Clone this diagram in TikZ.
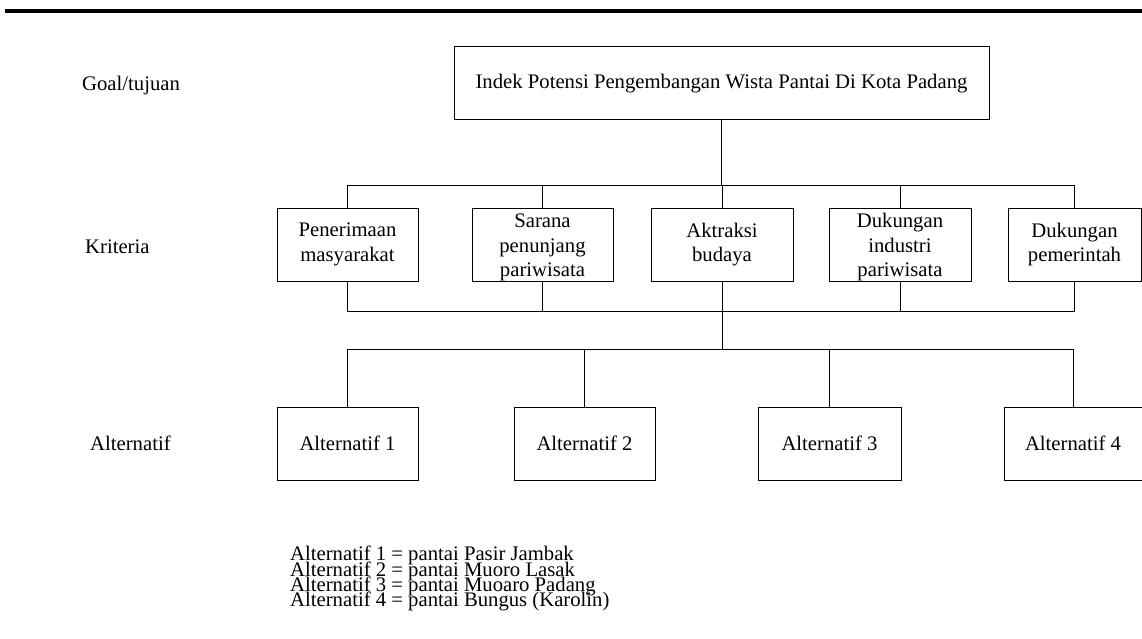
\documentclass[tikz,border=0pt]{standalone}
\usepackage{fontspec}
\setmainfont{Liberation Serif}

\begin{document}
\begin{tikzpicture}[x = 1pt, y = -1pt,
    every node/.style = {font = \fontsize{20.7}{24.5}\selectfont, inner sep = 0pt},
    box/.style = {draw, line width = 0.9pt, minimum height = 73pt, align = center},
    level/.style = {anchor = base west},
    link/.style = {line width = 0.9pt}]
            \useasboundingbox (0, 0) rectangle (1142, 639);
            \draw[line width = 4pt] (5, 11) -- (1142, 11);

            \node[level] (lgoal) at (82, 90.7) {Goal/tujuan};
            \node[level] (lkrit) at (85, 253) {Kriteria};
            \node[level] (lalt) at (90, 450.5) {Alternatif};

            \node[box, minimum width = 535pt, minimum height = 73.3pt] (goal) at (721.5, 83.3)
              {Indek Potensi Pengembangan Wista Pantai Di Kota Padang};

            \node[box, minimum width = 141pt] (pen) at (347.5, 244.5) {Penerimaan\\masyarakat};
            \node[box, minimum width = 141pt] (sar) at (542.5, 244.5) {\rule{0pt}{19.5pt}Sarana\\penunjang\\pariwisata};
            \node[box, minimum width = 142pt] (akt) at (722, 244.5) {Aktraksi\\budaya};
            \node[box, minimum width = 142pt] (ind) at (900, 244.5) {\rule{0pt}{19.5pt}Dukungan\\industri\\pariwisata};
            \node[box, minimum width = 133pt] (pem) at (1074.5, 244.5) {Dukungan\\pemerintah};

            \node[box, minimum width = 141pt] (alt1) at (347.5, 443.5) {Alternatif 1};
            \node[box, minimum width = 141pt] (alt2) at (584.5, 443.5) {Alternatif 2};
            \node[box, minimum width = 143pt] (alt3) at (829.5, 443.5) {Alternatif 3};
            \node[box, minimum width = 138pt] (alt4) at (1073, 443.5) {Alternatif 4};

            \coordinate (kbar) at (0, 185);
            \coordinate (kbot) at (0, 311);
            \coordinate (abar) at (0, 349);

            \draw[link] (goal.south) -- (goal.south |- kbar);
            \draw[link] (pen.north) |- (kbar -| pem.north) -- (pem.north);
            \foreach \n in {sar, akt, ind}
              \draw[link] (\n.north) -- (\n.north |- kbar);

            \draw[link] (pen.south) |- (kbot -| pem.south) -- (pem.south);
            \foreach \n in {sar, ind}
              \draw[link] (\n.south) -- (\n.south |- kbot);
            \draw[link] (akt.south) -- (akt.south |- abar);

            \draw[link] (alt1.north) |- (abar -| alt4.north) -- (alt4.north);
            \foreach \n in {alt2, alt3}
              \draw[link] (\n.north) -- (\n.north |- abar);

            \foreach \num/\beach in {1/Pasir Jambak, 2/Muoro Lasak, 3/Muoaro Padang, 4/Bungus (Karolin)}
              \node[level] (note\num) at (290, 545.4 + 15.3*\num) {Alternatif \num{} = pantai \beach};
        \end{tikzpicture}
\end{document}
